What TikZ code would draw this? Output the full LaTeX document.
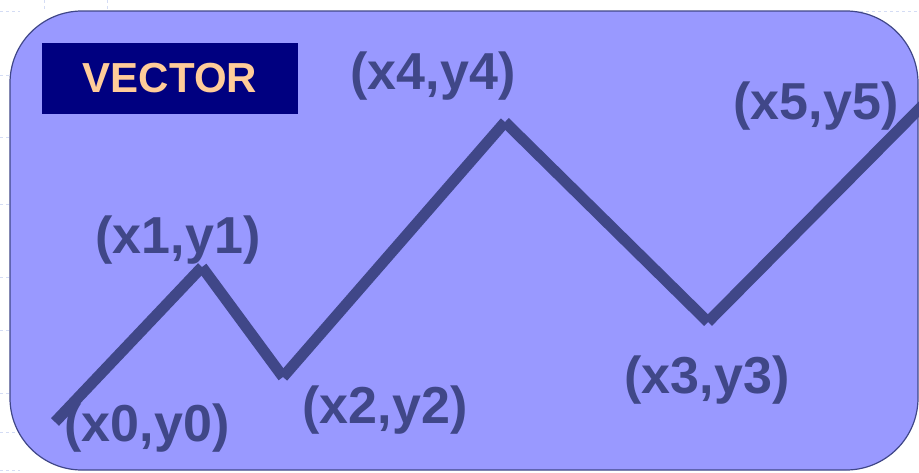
\documentclass[tikz,border=0pt]{standalone}
\usepackage{fontspec}
\setmainfont{Liberation Sans}
\definecolor{boxfill}{HTML}{9999FF}
\definecolor{ink}{HTML}{404788}
\definecolor{navyc}{HTML}{000080}
\definecolor{peach}{HTML}{FFCC99}
\definecolor{gridc}{HTML}{D4DCF4}
\begin{document}
\begin{tikzpicture}[x=1pt,y=-1pt,
  lbl/.style={text=ink,font=\fontsize{52}{52}\selectfont\bfseries,inner sep=0pt},
  seg/.style={draw=ink,line width=11pt,line cap=butt},
  gridline/.style={draw=gridc,dashed,line width=1pt}]
\useasboundingbox (0,0) rectangle (919,472);
% faint background grid
\foreach \yy in {11,75,137,204,277,330,393,432,470}
  \draw[gridline] (0,\yy) -- (20,\yy);
\draw[gridline] (860,11) -- (919,11);
\draw[gridline] (44,0) -- (44,11);
\draw[gridline] (107,0) -- (107,11);
% main rounded panel
\draw[fill=boxfill,draw=ink,line width=1.2pt,rounded corners=72pt] (10,11) rectangle (918,470);
% title
\node[fill=navyc,minimum width=256pt,minimum height=71pt,inner sep=0pt,
      text=peach,font=\fontsize{42}{42}\selectfont\bfseries] (title) at (170,78.5) {VECTOR};
% polyline points
\coordinate (p0) at (55,422);
\coordinate (p1) at (202,267);
\coordinate (p2) at (283,377);
\coordinate (p4) at (505,122);
\coordinate (p3) at (708,322);
\coordinate (p5) at (930,98);
\begin{scope}
\clip (0,0) rectangle (919,472);
\draw[seg] (p0) -- (p1);
\draw[seg] (p1) -- (p2);
\draw[seg] (p2) -- (p4);
\draw[seg] (p4) -- (p3);
\draw[seg] (p3) -- (p5);
\end{scope}
% labels
\node[lbl] (l0) at (147,428) {(x0,y0)};
\node[lbl] (l1) at (178,240) {(x1,y1)};
\node[lbl] (l2) at (385,410) {(x2,y2)};
\node[lbl] (l3) at (707,380) {(x3,y3)};
\node[lbl] (l4) at (433,76) {(x4,y4)};
\node[lbl] (l5) at (816,106) {(x5,y5)};
\end{tikzpicture}
\end{document}
